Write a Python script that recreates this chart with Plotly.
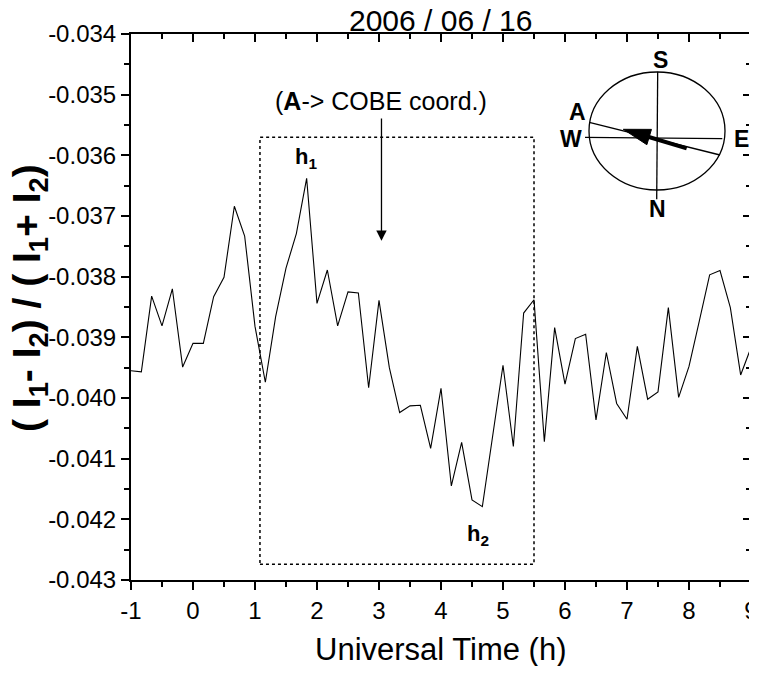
import plotly.graph_objects as go

# ---------------- data ----------------
ut_hours = [-1.0, -0.833, -0.667, -0.5, -0.333, -0.167, 0.0, 0.167, 0.333, 0.5,
            0.667, 0.833, 1.0, 1.167, 1.333, 1.5, 1.667, 1.833, 2.0, 2.167,
            2.333, 2.5, 2.667, 2.833, 3.0, 3.167, 3.333, 3.5, 3.667, 3.833,
            4.0, 4.167, 4.333, 4.5, 4.667, 4.833, 5.0, 5.167, 5.333, 5.5,
            5.667, 5.833, 6.0, 6.167, 6.333, 6.5, 6.667, 6.833, 7.0, 7.167,
            7.333, 7.5, 7.667, 7.833, 8.0, 8.167, 8.333, 8.5, 8.667, 8.833, 9.0]

asymmetry = [-0.03955, -0.03957, -0.03832, -0.03881, -0.03820, -0.03949, -0.03910, -0.03910,
             -0.03833, -0.03801, -0.03684, -0.03733, -0.03882, -0.03974, -0.03866, -0.03786,
             -0.03729, -0.03638, -0.03844, -0.03789, -0.03881, -0.03825, -0.03827, -0.03983,
             -0.03839, -0.03950, -0.04024, -0.04013, -0.04012, -0.04083, -0.03984, -0.04145,
             -0.04073, -0.04168, -0.04179, -0.04063, -0.03946, -0.04080, -0.03860, -0.03838,
             -0.04072, -0.03884, -0.03977, -0.03902, -0.03895, -0.04036, -0.03925, -0.04009,
             -0.04035, -0.03915, -0.04002, -0.03990, -0.03851, -0.03999, -0.03948, -0.03873,
             -0.03797, -0.03790, -0.03851, -0.03962, -0.03917]

x_range = [-1, 9]
y_range = [-0.043, -0.034]
x_ticks = [-1, 0, 1, 2, 3, 4, 5, 6, 7, 8, 9]
x_tick_labels = ["-1", "0", "1", "2", "3", "4", "5", "6", "7", "8", "9"]
y_ticks = [-0.034, -0.035, -0.036, -0.037, -0.038, -0.039, -0.040, -0.041, -0.042, -0.043]
y_tick_labels = ["-0.034", "-0.035", "-0.036", "-0.037", "-0.038", "-0.039", "-0.040",
                 "-0.041", "-0.042", "-0.043"]

title_text = "2006 / 06 / 16"
x_title = "Universal Time (h)"
y_title = "( I<sub>1</sub>- I<sub>2</sub>) / ( I<sub>1</sub>+ I<sub>2</sub>)"

# ---------------- layout geometry ----------------
OFF = 8                            # default page body margin
W, H = 757 - OFF, 674 - 2 * OFF    # figure size so the page does not overflow
L, R, T, B = 131, 751, 34, 580     # plot area in page pixels

FONT = "Liberation Sans, Arial, sans-serif"


def px_x(px):
    return x_range[0] + (px - L) / (R - L) * (x_range[1] - x_range[0])


def px_y(py):
    return y_range[1] - (py - T) / (B - T) * (y_range[1] - y_range[0])


def pap_x(px):
    return (px - L) / (R - L)


def pap_y(py):
    return (B - py) / (B - T)


def label(text, px, py, size, angle=0):
    return dict(x=pap_x(px), y=pap_y(py), xref="paper", yref="paper",
                xanchor="center", yanchor="middle", text=text, showarrow=False,
                textangle=angle, font=dict(family=FONT, size=size, color="black"))


fig = go.Figure()
fig.add_trace(go.Scatter(x=ut_hours, y=asymmetry, mode="lines",
                         line=dict(color="black", width=1.1),
                         showlegend=False, hoverinfo="skip"))
# invisible traces to activate mirrored axes with inside ticks
fig.add_trace(go.Scatter(x=[x_range[0]], y=[y_range[0]], xaxis="x2", yaxis="y",
                         mode="markers", marker=dict(opacity=0), showlegend=False,
                         hoverinfo="skip"))
fig.add_trace(go.Scatter(x=[x_range[0]], y=[y_range[0]], xaxis="x", yaxis="y2",
                         mode="markers", marker=dict(opacity=0), showlegend=False,
                         hoverinfo="skip"))

shapes = []
# dotted rectangle
shapes.append(dict(type="rect", xref="x", yref="y", x0=1.08, x1=5.5, y0=-0.04274, y1=-0.0357,
                   line=dict(color="black", width=1.5, dash="dot")))

# compass
shapes.append(dict(type="circle", xref="x", yref="y",
                   x0=px_x(589), x1=px_x(725), y0=px_y(190), y1=px_y(72),
                   line=dict(color="black", width=1.3)))
for (xa, ya, xb, yb) in [(657.7, 71.7, 656.7, 199.3),
                         (585.0, 137.3, 722.3, 138.7),
                         (589.3, 122.3, 720.0, 155.0)]:
    shapes.append(dict(type="line", xref="x", yref="y",
                       x0=px_x(xa), y0=px_y(ya), x1=px_x(xb), y1=px_y(yb),
                       line=dict(color="black", width=1.3)))

# thick arrow in compass
tail = (686.7, 148.3)
tip = (623.3, 129.3)
dx, dy = tip[0] - tail[0], tip[1] - tail[1]
ln = (dx * dx + dy * dy) ** 0.5
ux, uy = dx / ln, dy / ln
nx, ny = -uy, ux
hl, hw = 27.0, 8.0
bx, by = tip[0] - hl * ux, tip[1] - hl * uy
shapes.append(dict(type="line", xref="x", yref="y",
                   x0=px_x(tail[0]), y0=px_y(tail[1]), x1=px_x(bx + 2 * ux), y1=px_y(by + 2 * uy),
                   line=dict(color="black", width=4)))
pts = [tip, (bx + hw * nx, by + hw * ny), (bx - hw * nx, by - hw * ny)]
path = "M {} {} L {} {} L {} {} Z".format(px_x(pts[0][0]), px_y(pts[0][1]),
                                          px_x(pts[1][0]), px_y(pts[1][1]),
                                          px_x(pts[2][0]), px_y(pts[2][1]))
shapes.append(dict(type="path", xref="x", yref="y", path=path,
                   fillcolor="black", line=dict(color="black", width=1)))

annotations = []
for txt, (px, py) in [("S", (660, 60)), ("A", (577, 112)), ("W", (571, 139)),
                      ("E", (741, 139)), ("N", (657, 209))]:
    annotations.append(label("<b>%s</b>" % txt, px, py, 23))

annotations.append(label("<b>h<sub>1</sub></b>", 306, 158, 22))
annotations.append(label("<b>h<sub>2</sub></b>", 478, 535, 22))
annotations.append(label("(<b>A</b>-> COBE coord.)", 381, 101, 25))
annotations.append(dict(x=3.04, y=-0.03741, xref="x", yref="y",
                        ax=3.04, ay=-0.03537, axref="x", ayref="y",
                        text="", showarrow=True, arrowhead=2, arrowsize=1.6,
                        arrowwidth=1.3, arrowcolor="black"))
# title and axis titles
annotations.append(label(title_text, 441, 20, 30))
annotations.append(label(x_title, 441, 649, 31))
annotations.append(label("<b>" + y_title + "</b>", 30, 298, 39, angle=-90))

tickfont = dict(family=FONT, size=24, color="black")

fig.update_layout(
    width=W, height=H,
    margin=dict(l=L - OFF, r=W - (R - OFF), t=T - OFF, b=H - (B - OFF), autoexpand=False),
    paper_bgcolor="white", plot_bgcolor="white",
    shapes=shapes, annotations=annotations,
    xaxis=dict(range=x_range, tickvals=x_ticks, ticktext=x_tick_labels, ticks="outside",
               ticklen=8, tickwidth=2, automargin=False, ticklabeloverflow="allow",
               tickcolor="black", showline=True, linecolor="black", linewidth=2,
               showgrid=False, zeroline=False, tickfont=tickfont,
               minor=dict(dtick=0.5, ticks="outside", ticklen=5, tickwidth=2, tickcolor="black")),
    yaxis=dict(range=y_range, tickvals=y_ticks, ticktext=y_tick_labels, ticks="outside",
               ticklen=8, automargin=False, ticklabeloverflow="allow",
               tickwidth=2, tickcolor="black", showline=True, linecolor="black", linewidth=2,
               showgrid=False, zeroline=False, tickfont=tickfont,
               minor=dict(dtick=0.0005, ticks="outside", ticklen=5, tickwidth=2, tickcolor="black")),
    xaxis2=dict(range=x_range, overlaying="x", side="top", anchor="y", tickvals=x_ticks,
                ticks="inside", ticklen=8, tickwidth=2, tickcolor="black", showticklabels=False,
                showline=True, linecolor="black", linewidth=2, showgrid=False, zeroline=False,
                automargin=False,
                minor=dict(dtick=0.5, ticks="inside", ticklen=5, tickwidth=2, tickcolor="black")),
    yaxis2=dict(range=y_range, overlaying="y", side="right", anchor="x", tickvals=y_ticks,
                ticks="inside", ticklen=8, tickwidth=2, tickcolor="black", showticklabels=False,
                showline=True, linecolor="black", linewidth=2, showgrid=False, zeroline=False,
                automargin=False,
                minor=dict(dtick=0.0005, ticks="inside", ticklen=5, tickwidth=2, tickcolor="black")),
)

fig.write_html("out.html")
